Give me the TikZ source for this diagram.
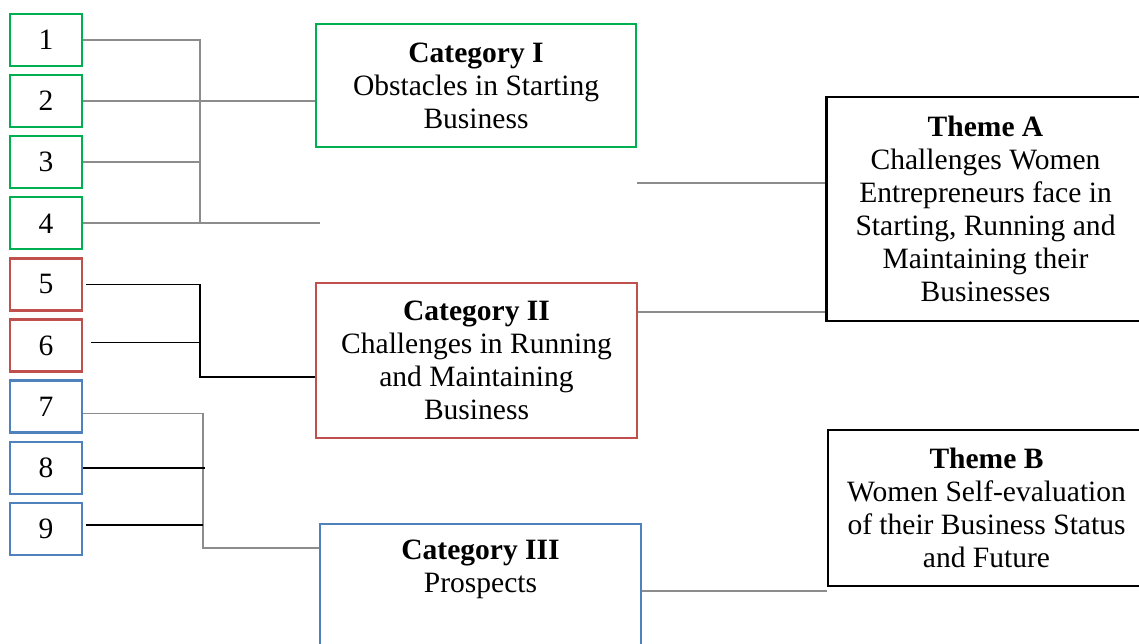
\documentclass[tikz,border=0pt]{standalone}
\usepackage{fontspec}
\setmainfont{Liberation Serif}
\definecolor{catgreen}{RGB}{0,176,80}
\definecolor{catred}{RGB}{192,80,77}
\definecolor{catblue}{RGB}{79,129,189}
\definecolor{linegray}{RGB}{140,140,140}
\tikzset{
	numbox/.style={draw, line width=1.3pt, minimum width=1.44cm, minimum height=1.04cm, inner sep=0pt},
	catbox/.style={draw, line width=1.3pt, minimum width=6.4cm, align=center, inner sep=0pt},
	themebox/.style={draw=black, line width=1.3pt, minimum width=6.36cm, align=center, inner sep=0pt},
	grayline/.style={draw=linegray, line width=1pt},
	blackline/.style={draw=black, line width=1pt}
}

\begin{document}
\begin{tikzpicture}[font=\fontsize{16.8}{18.8}\selectfont]
	\useasboundingbox (0,0) rectangle (22.78,12.88);
	\clip (0,0) rectangle (22.78,12.88);
	\foreach \i/\col in {1/catgreen,2/catgreen,3/catgreen,4/catgreen,5/catred,6/catred,7/catblue,8/catblue,9/catblue}
		\node[numbox, draw=\col] (n\i) at (0.92,{12.08-1.222*(\i-1)}) {\i};
	\node[catbox, draw=catgreen, minimum height=2.46cm] (cat1) at (9.52,11.17) {\textbf{Category I}\\Obstacles in Starting\\Business};
	\node[catbox, draw=catred, minimum width=6.42cm, minimum height=3.1cm] (cat2) at (9.53,5.67) {\textbf{Category II}\\Challenges in Running\\and Maintaining\\Business};
	\node[catbox, draw=catblue, minimum width=6.42cm, minimum height=3cm] (cat3) at (9.61,0.9) {};
	\node[anchor=north, align=center, inner sep=0pt] (cat3text) at ([yshift=-0.34cm]cat3.north) {\textbf{Category III}\\Prospects};
	\node[themebox, minimum height=4.48cm] (themeA) at (19.71,8.70) {\textbf{Theme A}\\Challenges Women\\Entrepreneurs face in\\Starting, Running and\\Maintaining their\\Businesses};
	\node[themebox, minimum width=6.34cm, minimum height=3.12cm] (themeB) at (19.73,2.72) {\textbf{Theme B}\\Women Self-evaluation\\of their Business Status\\and Future};
	\coordinate (busA) at (4.0,0);
	\coordinate (busC) at (4.06,0);
	\coordinate (gapA) at (6.4,7.44);
	\coordinate (gapB) at (12.74,9.22);
	\draw[grayline] (n1.east) -| (busA |- n4.east) -- (n4.east);
	\draw[grayline] (n2.east) -- (n2.east -| cat1.west);
	\draw[grayline] (n3.east) -- (n3.east -| busA);
	\draw[grayline] (busA |- n4.east) -- (gapA |- n4.east);
	\draw[grayline] (gapB) -- (gapB -| themeA.west);
	\draw[blackline] ([xshift=0.06cm]n5.east) -| (busA |- 0,5.34) -- (cat2.west |- 0,5.34);
	\draw[blackline] ([xshift=0.16cm,yshift=0.06cm]n6.east) -- ([yshift=0.06cm]n6.east -| busA);
	\draw[grayline] ([yshift=0.97cm]cat2.east) -- ([yshift=0.97cm]cat2.east -| themeA.west);
	\draw[grayline] ([yshift=-0.14cm]n7.east) -| (busC |- 0,1.92) -- (cat3.west |- 0,1.92);
	\draw[blackline] (n8.east) -- ([xshift=0.04cm]n8.east -| busC);
	\draw[blackline] ([xshift=0.06cm,yshift=0.08cm]n9.east) -- ([yshift=0.08cm]n9.east -| busC);
	\draw[grayline] ([yshift=0.16cm]cat3.east) -- ([yshift=0.16cm]cat3.east -| themeB.west);
\end{tikzpicture}
\end{document}
